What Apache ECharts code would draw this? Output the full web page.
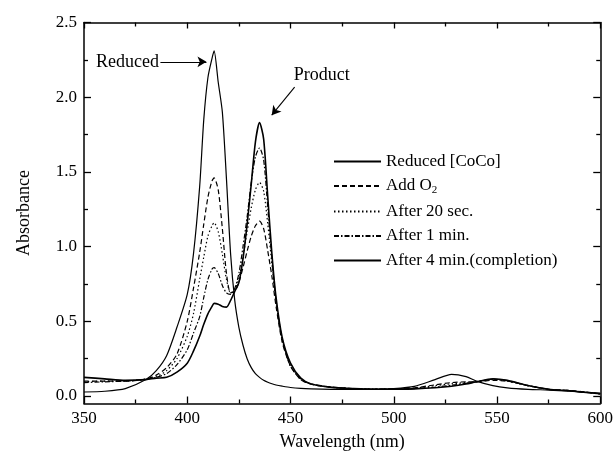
<!doctype html>
<html lang="en">
	<head>
		<meta charset="UTF-8">
		<title>echarts</title>
		<script src="https://cdn.jsdelivr.net/npm/echarts@6/dist/echarts.min.js"></script>
		<style>
			html, body { margin: 0; padding: 0; background: #fff; }
		</style>
	</head>
	<body>
		<div id="main" style="width: 616px; height: 462px;"></div>
		<script>
			// wavelength grid (nm), shared by all spectra
			let wavelengths = [350, 360, 370, 380, 385, 390, 395, 400, 403, 406, 408, 410, 412, 413, 415, 417, 419, 421, 423, 425,
				427, 429, 431, 433, 435, 437, 439, 441, 443, 446, 450, 455, 460, 470, 480, 490, 500, 510, 520, 528,
				535, 540, 548, 555, 565, 575, 585, 592, 600]

			let reduced = [0.027, 0.032, 0.05, 0.11, 0.17, 0.27, 0.46, 0.68, 0.95, 1.4, 1.85, 2.13, 2.26, 2.31, 2.1, 1.9, 1.45, 0.95, 0.64, 0.46,
				0.34, 0.25, 0.19, 0.15, 0.125, 0.105, 0.092, 0.082, 0.074, 0.066, 0.057, 0.051, 0.048, 0.045, 0.044, 0.045, 0.05, 0.065, 0.11, 0.145,
				0.13, 0.1, 0.07, 0.055, 0.045, 0.04, 0.033, 0.027, 0.02]
			let addO2 = [0.1, 0.1, 0.1, 0.112, 0.14, 0.19, 0.28, 0.5, 0.72, 0.96, 1.15, 1.33, 1.44, 1.46, 1.38, 1.12, 0.82, 0.69, 0.7, 0.76,
				0.86, 0.97, 1.07, 1.14, 1.17, 1.12, 0.97, 0.8, 0.6, 0.36, 0.2, 0.11, 0.08, 0.06, 0.05, 0.047, 0.048, 0.055, 0.075, 0.09,
				0.095, 0.095, 0.105, 0.1, 0.07, 0.045, 0.037, 0.028, 0.015]
			let after20s = [0.095, 0.1, 0.1, 0.113, 0.13, 0.17, 0.25, 0.4, 0.55, 0.78, 0.93, 1.07, 1.14, 1.16, 1.1, 0.95, 0.78, 0.69, 0.71, 0.79,
				0.93, 1.1, 1.26, 1.38, 1.43, 1.37, 1.15, 0.88, 0.63, 0.37, 0.2, 0.11, 0.08, 0.058, 0.05, 0.047, 0.048, 0.053, 0.07, 0.082,
				0.09, 0.095, 0.11, 0.1, 0.07, 0.045, 0.036, 0.027, 0.015]
			let after1min = [0.09, 0.095, 0.1, 0.113, 0.125, 0.15, 0.21, 0.31, 0.42, 0.53, 0.66, 0.78, 0.85, 0.86, 0.82, 0.74, 0.69, 0.68, 0.72, 0.82,
				1.0, 1.2, 1.43, 1.6, 1.66, 1.58, 1.26, 0.92, 0.64, 0.38, 0.2, 0.115, 0.08, 0.058, 0.05, 0.046, 0.047, 0.05, 0.06, 0.072,
				0.085, 0.095, 0.113, 0.103, 0.07, 0.045, 0.036, 0.026, 0.015]
			let after4min = [0.125, 0.115, 0.105, 0.11, 0.12, 0.125, 0.16, 0.22, 0.3, 0.4, 0.48, 0.55, 0.6, 0.62, 0.615, 0.6, 0.595, 0.64, 0.7, 0.76,
				0.92, 1.15, 1.42, 1.7, 1.83, 1.72, 1.33, 0.95, 0.66, 0.39, 0.22, 0.12, 0.08, 0.058, 0.05, 0.045, 0.045, 0.048, 0.055, 0.065,
				0.08, 0.095, 0.115, 0.105, 0.07, 0.045, 0.035, 0.025, 0.015]

			let seriesNames = ['Reduced [CoCo]', 'Add O2', 'After 20 sec.', 'After 1 min.', 'After 4 min.(completion)']
			let yMajor = [0, 0.5, 1.0, 1.5, 2.0, 2.5]
			let yMinor = [0.25, 0.75, 1.25, 1.75, 2.25]

			let font = 'Liberation Serif'
			let mCharts = echarts.init(document.getElementById('main'))

			function pairs(ys) {
				return wavelengths.map((x, i) => [x, ys[i]])
			}

			function mkSeries(name, ys, type, width) {
				return {
					name: name,
					type: 'line',
					data: pairs(ys),
					symbol: 'none',
					smooth: 0.25,
					silent: true,
					itemStyle: { color: '#000' },
					lineStyle: { color: '#000', width: width, type: type }
				}
			}

			function xAx(pos) {
				let bottom = pos === 'bottom'
				return {
					type: 'value',
					position: pos,
					min: 350,
					max: 600,
					interval: 50,
					splitLine: { show: false },
					axisLine: { onZero: false, lineStyle: { color: '#000', width: 1.5 } },
					axisTick: { inside: true, length: bottom ? 7 : 6, lineStyle: { color: '#000', width: 1.3 } },
					minorTick: { show: true, splitNumber: 2, length: 4, lineStyle: { color: '#000', width: 1.3 } },
					axisLabel: { show: bottom, color: '#000', fontSize: 17, fontFamily: font, margin: 7 },
					name: bottom ? 'Wavelength (nm)' : '',
					nameLocation: 'middle',
					nameGap: 30,
					nameTextStyle: { color: '#000', fontSize: 18, fontFamily: font }
				}
			}

			function yAx(pos, major) {
				let main = pos === 'left' && major
				return {
					type: 'value',
					position: pos,
					min: -0.05,
					max: 2.5,
					splitLine: { show: false },
					axisLine: { show: major, onZero: false, lineStyle: { color: '#000', width: 1.5 } },
					axisTick: {
						inside: true,
						length: major ? 7 : 4,
						customValues: major ? yMajor : yMinor,
						lineStyle: { color: '#000', width: 1.3 }
					},
					axisLabel: {
						show: main,
						customValues: yMajor,
						formatter: (v) => v.toFixed(1),
						color: '#000',
						fontSize: 17,
						fontFamily: font,
						margin: 7
					},
					name: main ? 'Absorbance' : '',
					nameLocation: 'middle',
					nameGap: 51,
					nameTextStyle: { color: '#000', fontSize: 18, fontFamily: font }
				}
			}

			let series = [
				mkSeries(seriesNames[0], reduced, 'solid', 1.2),
				mkSeries(seriesNames[1], addO2, [5, 3], 1.2),
				mkSeries(seriesNames[2], after20s, [1.5, 2.5], 1.2),
				mkSeries(seriesNames[3], after1min, [5, 2, 1.5, 2], 1.2),
				mkSeries(seriesNames[4], after4min, 'solid', 1.6)
			]

			// arrows for the two labels
			series[0].markLine = {
				silent: true,
				symbol: ['none', 'arrow'],
				symbolSize: [8, 9],
				label: { show: false },
				lineStyle: { color: '#000', width: 1.1, type: 'solid' },
				data: [
					[{ coord: [387, 2.237] }, { coord: [409.3, 2.237] }],
					[{ coord: [452, 2.068] }, { coord: [440.9, 1.88] }]
				]
			}

			let option = {
				animation: false,
				grid: { left: 84, right: 14, top: 22.5, bottom: 58.5, containLabel: false },
				xAxis: [xAx('bottom'), xAx('top')],
				yAxis: [yAx('left', true), yAx('left', false), yAx('right', true), yAx('right', false)],
				legend: {
					orient: 'vertical',
					left: 328,
					top: 148,
					itemWidth: 47,
					itemHeight: 14,
					itemGap: 7.5,
					selectedMode: false,
					data: seriesNames,
					itemStyle: { opacity: 0 },
					formatter: (name) => name === 'Add O2' ? 'Add O{s|2}' : name,
					textStyle: {
						color: '#000',
						fontSize: 17,
						lineHeight: 17,
						fontFamily: font,
						rich: {
							s: { fontSize: 11, fontFamily: font, color: '#000', padding: [8, 0, 0, 0] }
						}
					}
				},
				series: series
			}
			mCharts.setOption(option)

			// text annotations placed in data coordinates
			let p1 = mCharts.convertToPixel({ xAxisIndex: 0, yAxisIndex: 0 }, [386.3, 2.237])
			let p2 = mCharts.convertToPixel({ xAxisIndex: 0, yAxisIndex: 0 }, [465.1, 2.148])
			mCharts.setOption({
				graphic: [
					{
						type: 'text', x: p1[0], y: p1[1],
						style: { text: 'Reduced', font: '18px "Liberation Serif"', fill: '#000', align: 'right', verticalAlign: 'middle' }
					},
					{
						type: 'text', x: p2[0], y: p2[1],
						style: { text: 'Product', font: '18px "Liberation Serif"', fill: '#000', align: 'center', verticalAlign: 'middle' }
					}
				]
			})
		</script>
	</body>
</html>
